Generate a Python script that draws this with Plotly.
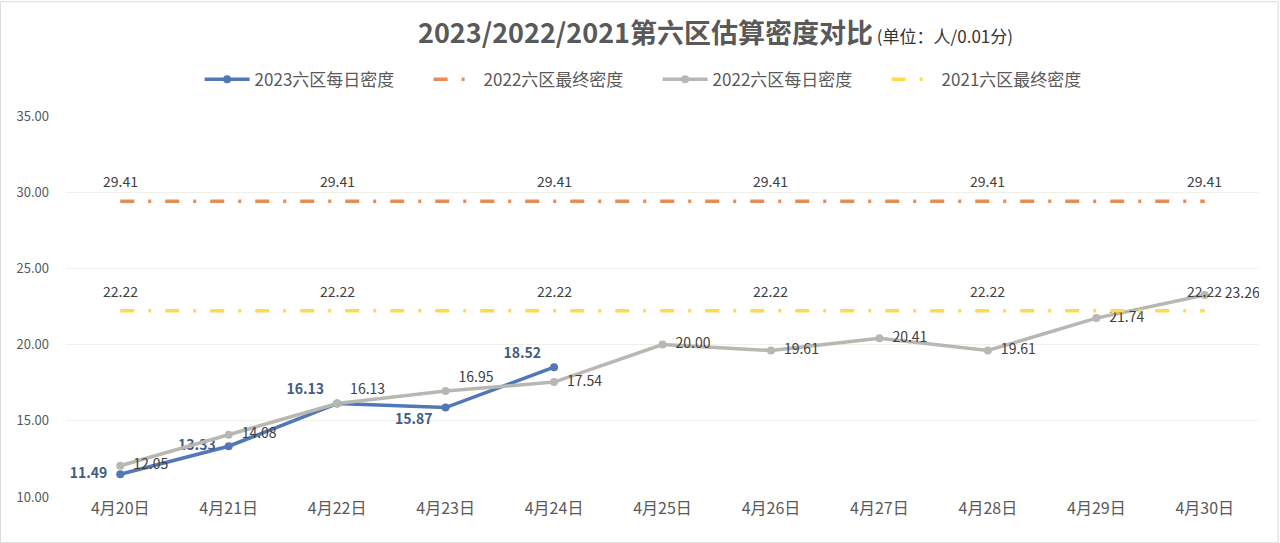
import plotly.graph_objects as go

dates = ["4月20日", "4月21日", "4月22日", "4月23日", "4月24日", "4月25日",
         "4月26日", "4月27日", "4月28日", "4月29日", "4月30日"]
daily_2023 = [11.49, 13.33, 16.13, 15.87, 18.52]
daily_2022 = [12.05, 14.08, 16.13, 16.95, 17.54, 20.00, 19.61, 20.41, 19.61, 21.74, 23.26]
final_2022 = [29.41] * 11
final_2021 = [22.22] * 11

font_cn = "Noto Sans CJK SC"
sp = "\u2002"  # en space, pushes the point labels a bit away from the markers

gray_text = [f"{sp}{v:.2f}" for v in daily_2022]
gray_text[-1] = sp + gray_text[-1]  # last one sits next to the 22.22 label

fig = go.Figure()

fig.add_trace(go.Scatter(
    x=dates[:len(daily_2023)], y=daily_2023, name="2023六区每日密度",
    mode="lines+markers+text", line=dict(color="#5078b8", width=3.5),
    marker=dict(size=8, color="#5078b8"),
    text=[f"{v:.2f}{sp}" for v in daily_2023],
    textposition=["middle left", "middle left", "top left", "bottom left", "top left"],
    textfont=dict(color="#3f5d86", size=14, family=font_cn, weight="bold"),
))
fig.add_trace(go.Scatter(
    x=dates, y=final_2022, name="2022六区最终密度",
    mode="lines", line=dict(color="#e58d55", width=3.5, dash="14px,14px,3px,14px"),
))
fig.add_trace(go.Scatter(
    x=dates, y=daily_2022, name="2022六区每日密度",
    mode="lines+markers+text", line=dict(color="#b8b8b2", width=3.5),
    marker=dict(size=8, color="#b8b8b2"),
    text=gray_text,
    textposition=["middle right", "middle right", "top right", "top right"] + ["middle right"] * 7,
    textfont=dict(color="#404040", size=14, family=font_cn),
))
fig.add_trace(go.Scatter(
    x=dates, y=final_2021, name="2021六区最终密度",
    mode="lines", line=dict(color="#ffd94f", width=3.5, dash="14px,14px,3px,14px"),
))

# the flat lines are labelled every other day, a little above the line
for series in (final_2022, final_2021):
    for i, (d, v) in enumerate(zip(dates, series)):
        if i % 2 == 0:
            fig.add_annotation(x=d, y=v, text=f"{v:.2f}", showarrow=False, yshift=20,
                               font=dict(color="#404040", size=14, family=font_cn))

fig.update_layout(
    width=1280, height=543,
    paper_bgcolor="white", plot_bgcolor="white",
    font=dict(family=font_cn, color="#595959"),
    margin=dict(l=66, r=21, t=116, b=46),
    title=dict(
        text="<b>2023/2022/2021第六区估算密度对比</b>"
             "<span style='font-size:17px;color:#333333'> (单位：人/0.01分)</span>",
        x=0.559, xanchor="center", yref="container", y=0.939, yanchor="middle",
        font=dict(size=27, color="#595959", family=font_cn),
    ),
    legend=dict(orientation="h", x=0.112, xanchor="left", y=1.095, yanchor="middle",
                font=dict(size=17, color="#595959"), itemwidth=45,
                entrywidth=169, entrywidthmode="pixels"),
    showlegend=True,
)
fig.update_xaxes(range=[-0.5, 10.5], showgrid=False, showline=False, ticks="", automargin=False,
                 tickfont=dict(size=16, color="#595959"))
fig.update_yaxes(range=[10, 35], dtick=5, tickformat=".2f", showgrid=True,
                 gridcolor="#f1f1ea", zeroline=False, showline=False, automargin=False,
                 ticklabelstandoff=16, tickfont=dict(size=13, color="#595959"))

fig.add_shape(type="rect", xref="paper", yref="paper",
              x0=-0.055, x1=1.016, y0=-0.12, y1=1.3,
              line=dict(color="#d9d9d9", width=1))

fig.write_html("out.html", config={"displayModeBar": False},
               post_script="document.body.style.margin='0';document.body.style.overflow='hidden';")
